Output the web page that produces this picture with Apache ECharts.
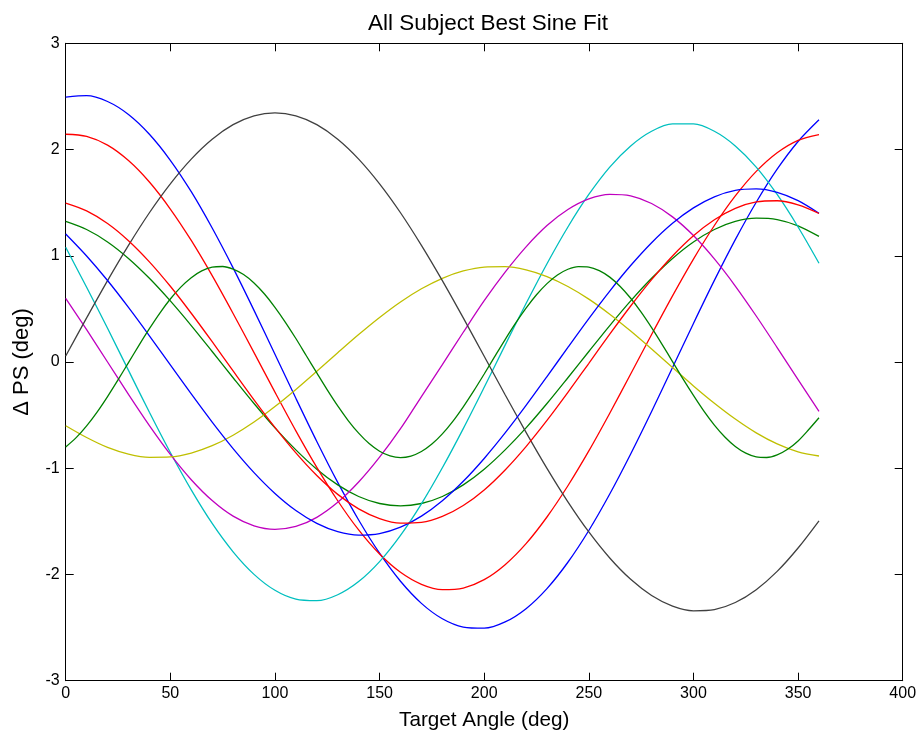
<!DOCTYPE html>
<html>
<head>
<meta charset="utf-8">
<script src="https://cdn.jsdelivr.net/npm/echarts@6/dist/echarts.min.js"></script>
<style>
html,body{margin:0;padding:0;background:#fff;}
#chart{width:922px;height:740px;}
</style>
</head>
<body>
<div id="chart"></div>
<script>
// Target angles (deg)
var angles = [0,10,20,30,40,50,60,70,80,90,100,110,120,130,140,150,160,170,180,190,200,210,220,230,240,250,260,270,280,290,300,310,320,330,340,350,360];
var anglesFine = [0,5,10,15,20,25,30,35,40,45,50,55,60,65,70,75,80,85,90,95,100,105,110,115,120,125,130,135,140,145,150,155,160,165,170,175,180,185,190,195,200,205,210,215,220,225,230,235,240,245,250,255,260,265,270,275,280,285,290,295,300,305,310,315,320,325,330,335,340,345,350,355,360];

// Delta PS (deg) per subject
var blueA = [2.493,2.507,2.452,2.330,2.144,1.899,1.603,1.261,0.886,0.486,0.073,-0.342,-0.748,-1.133,-1.487,-1.800,-2.064,-2.272,-2.417,-2.495,-2.506,-2.447,-2.322,-2.133,-1.885,-1.586,-1.243,-0.866,-0.466,-0.052,0.363,0.768,1.152,1.504,1.815,2.076,2.280];
var greenA = [1.323,1.247,1.130,0.975,0.788,0.575,0.343,0.099,-0.148,-0.391,-0.620,-0.827,-1.009,-1.157,-1.266,-1.332,-1.355,-1.332,-1.266,-1.157,-1.009,-0.827,-0.620,-0.391,-0.148,0.099,0.343,0.575,0.788,0.975,1.130,1.247,1.323,1.354,1.341,1.282,1.182];
var redA = [2.144,2.124,2.041,1.896,1.694,1.440,1.144,0.813,0.457,0.088,-0.284,-0.648,-0.992,-1.306,-1.581,-1.808,-1.980,-2.093,-2.143,-2.128,-2.049,-1.908,-1.710,-1.459,-1.165,-0.837,-0.482,-0.113,0.259,0.623,0.969,1.285,1.563,1.794,1.970,2.087,2.141];
var cyan = [1.080,0.703,0.317,-0.079,-0.473,-0.852,-1.204,-1.520,-1.787,-1.999,-2.149,-2.233,-2.247,-2.191,-2.067,-1.879,-1.632,-1.335,-0.996,-0.627,-0.238,0.159,0.550,0.925,1.271,1.577,1.835,2.034,2.172,2.241,2.241,2.172,2.034,1.835,1.577,1.271,0.930];
var magenta = [0.599,0.305,0.000,-0.305,-0.599,-0.870,-1.108,-1.304,-1.451,-1.542,-1.575,-1.548,-1.462,-1.321,-1.130,-0.896,-0.628,-0.325,-0.025,0.280,0.577,0.846,1.084,1.284,1.435,1.535,1.578,1.564,1.492,1.366,1.190,0.970,0.715,0.433,0.136,-0.166,-0.465];
var yellow = [-0.600,-0.711,-0.804,-0.867,-0.897,-0.894,-0.857,-0.788,-0.689,-0.565,-0.419,-0.258,-0.087,0.087,0.258,0.419,0.565,0.689,0.788,0.857,0.894,0.897,0.867,0.804,0.711,0.592,0.450,0.291,0.122,-0.052,-0.225,-0.388,-0.537,-0.667,-0.771,-0.846,-0.885];
var black = [0.056,0.415,0.766,1.098,1.405,1.677,1.910,2.097,2.234,2.317,2.345,2.317,2.234,2.097,1.910,1.677,1.405,1.098,0.766,0.415,0.054,-0.308,-0.662,-1.001,-1.316,-1.600,-1.845,-2.046,-2.198,-2.298,-2.342,-2.331,-2.264,-2.143,-1.971,-1.751,-1.495];
var blueB = [1.205,0.998,0.767,0.514,0.247,-0.028,-0.301,-0.566,-0.815,-1.041,-1.237,-1.398,-1.519,-1.597,-1.629,-1.615,-1.555,-1.451,-1.306,-1.123,-0.908,-0.668,-0.409,-0.138,0.138,0.409,0.668,0.908,1.123,1.306,1.451,1.555,1.615,1.629,1.597,1.519,1.400];
var greenB = [-0.800,-0.712,-0.601,-0.471,-0.325,-0.168,-0.006,0.157,0.314,0.461,0.593,0.705,0.794,0.858,0.893,0.899,0.875,0.823,0.744,0.640,0.515,0.374,0.221,0.059,-0.103,-0.263,-0.414,-0.551,-0.670,-0.768,-0.840,-0.884,-0.900,-0.886,-0.843,-0.773,-0.677,-0.559,-0.422,-0.272,-0.113,0.050,0.211,0.365,0.507,0.633,0.738,0.819,0.873,0.898,0.894,0.860,0.799,0.711,0.600,0.469,0.323,0.166,0.004,-0.159,-0.315,-0.463,-0.594,-0.706,-0.795,-0.858,-0.893,-0.899,-0.875,-0.822,-0.743,-0.638,-0.525];
var redB = [1.496,1.423,1.304,1.142,0.943,0.713,0.459,0.191,-0.084,-0.356,-0.616,-0.856,-1.069,-1.246,-1.382,-1.474,-1.517,-1.510,-1.454,-1.351,-1.204,-1.016,-0.796,-0.550,-0.286,-0.012,0.262,0.527,0.775,0.998,1.188,1.339,1.447,1.507,1.518,1.479,1.398];

var xTicks = [0,50,100,150,200,250,300,350,400];
var yTicks = [-3,-2,-1,0,1,2,3];

var FONT = "'Liberation Sans', Arial, Helvetica, sans-serif";

function pairs(xs, ys){ return xs.map(function(x,i){ return [x, ys[i]]; }); }

var seriesDefs = [
  {d: pairs(angles, blueA),  c: '#0000FF'},
  {d: pairs(angles, greenA), c: '#008000'},
  {d: pairs(angles, redA),   c: '#FF0000'},
  {d: pairs(angles, cyan),   c: '#00BFBF'},
  {d: pairs(angles, magenta),c: '#BF00BF'},
  {d: pairs(angles, yellow), c: '#BFBF00'},
  {d: pairs(angles, black),  c: '#404040'},
  {d: pairs(angles, blueB),  c: '#0000FF'},
  {d: pairs(anglesFine, greenB), c: '#008000'},
  {d: pairs(angles, redB),   c: '#FF0000'}
];

var axisCommon = {
  axisLine: {show: true, onZero: false, lineStyle: {color: '#000', width: 1}},
  axisTick: {show: true, inside: true, length: 8, lineStyle: {color: '#000', width: 1}},
  splitLine: {show: false}
};

var chart = echarts.init(document.getElementById('chart'), null, {renderer: 'canvas'});
chart.setOption({
  animation: false,
  backgroundColor: '#fff',
  title: {
    text: 'All Subject Best Sine Fit',
    left: 483, top: 7, textAlign: 'center',
    textStyle: {fontFamily: FONT, fontSize: 22.5, fontWeight: 'normal', color: '#000'}
  },
  grid: {left: 65.7, right: 19.3, top: 43.3, bottom: 59.3, containLabel: false},
  xAxis: [
    Object.assign({
      type: 'value', min: xTicks[0], max: xTicks[xTicks.length-1], interval: 50, position: 'bottom',
      name: 'Target Angle (deg)', nameLocation: 'middle', nameGap: 29,
      nameTextStyle: {fontFamily: FONT, fontSize: 20.7, color: '#000'},
      axisLabel: {show: true, margin: 5, fontFamily: FONT, fontSize: 16, color: '#000'}
    }, axisCommon),
    Object.assign({
      type: 'value', min: xTicks[0], max: xTicks[xTicks.length-1], interval: 50, position: 'top',
      axisLabel: {show: false}
    }, axisCommon)
  ],
  yAxis: [
    Object.assign({
      type: 'value', min: yTicks[0], max: yTicks[yTicks.length-1], interval: 1, position: 'left',
      name: '\u0394 PS (deg)', nameLocation: 'middle', nameGap: 33,
      nameTextStyle: {fontFamily: FONT, fontSize: 22, color: '#000'},
      axisLabel: {show: true, margin: 6, fontFamily: FONT, fontSize: 16, color: '#000'}
    }, axisCommon),
    Object.assign({
      type: 'value', min: yTicks[0], max: yTicks[yTicks.length-1], interval: 1, position: 'right',
      axisLabel: {show: false}
    }, axisCommon)
  ],
  series: seriesDefs.map(function(s){
    return {
      type: 'line', xAxisIndex: 0, yAxisIndex: 0, data: s.d,
      smooth: 0.3, showSymbol: false, symbol: 'none',
      lineStyle: {color: s.c, width: 1.3}, itemStyle: {color: s.c},
      emphasis: {disabled: true}, silent: true
    };
  })
});
</script>
</body>
</html>
